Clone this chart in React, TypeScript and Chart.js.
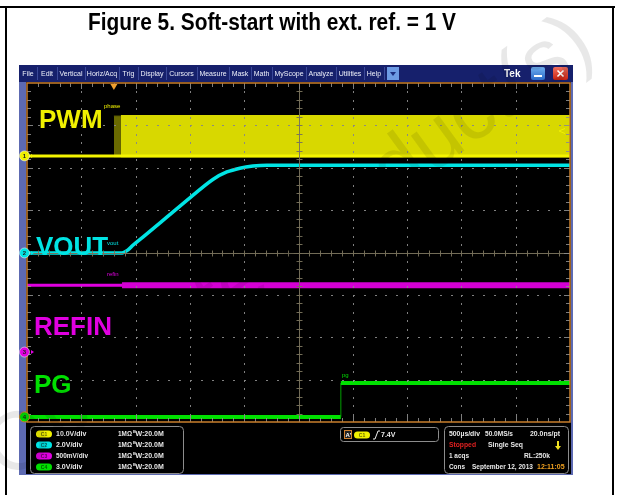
import React, { useEffect, useRef } from "react";
import { Chart, registerables } from "chart.js";

Chart.register(...registerables);

const TITLE = "Figure 5. Soft-start with ext. ref. = 1 V";

// Horizontal unit: screen divisions (500 µs/div, 10 divisions)
// Vertical unit: screen divisions (8 divisions)
const pwmBaseTime = [0, 10];
const pwmBaseLevel = [6.28, 6.28];
const pwmOnsetTime = [1.6, 1.73];
const pwmOnsetTop = [7.22, 7.22];
const pwmBurstTime = [1.73, 10];
const pwmBurstTop = [7.22, 7.22];

const voutTime = [0, 1.75, 1.86, 1.95, 2.14, 2.58, 3.0, 3.43, 3.68, 3.92, 4.16, 4.42, 10];
const voutLevel = [3.99, 3.99, 4.06, 4.17, 4.37, 4.84, 5.29, 5.73, 5.9, 5.99, 6.04, 6.06, 6.06];

const refinQuietTime = [0, 1.75];
const refinQuietLevel = [3.23, 3.23];
const refinNoisyTime = [1.75, 10];
const refinNoisyLevel = [3.23, 3.23];

const pgTime = [0, 5.78, 5.78, 10];
const pgLevel = [0.12, 0.12, 0.92, 0.92];

const channelNames = ["PWM", "VOUT", "REFIN", "PG"];
const channelTags = ["phase", "vout", "refin", "pg"];
const channelColors = ["#f0f000", "#00e4e4", "#e000e0", "#00e000"];
const channelOffsets = [6.28, 3.99, 1.65, 0.12];
const channelScales = ["10.0V/div", "2.0V/div", "500mV/div", "3.0V/div"];
const triggerTime = [1.6];

const menuItems = ["File", "Edit", "Vertical", "Horiz/Acq", "Trig", "Display", "Cursors", "Measure", "Mask", "Math", "MyScope", "Analyze", "Utilities", "Help"];

const pts = (xs: number[], ys: number[]) => xs.map((x, i) => ({ x, y: ys[i] }));

function rr(ctx: CanvasRenderingContext2D, x: number, y: number, w: number, h: number, r: number) {
  ctx.beginPath();
  ctx.moveTo(x + r, y);
  ctx.lineTo(x + w - r, y);
  ctx.arcTo(x + w, y, x + w, y + r, r);
  ctx.lineTo(x + w, y + h - r);
  ctx.arcTo(x + w, y + h, x + w - r, y + h, r);
  ctx.lineTo(x + r, y + h);
  ctx.arcTo(x, y + h, x, y + h - r, r);
  ctx.lineTo(x, y + r);
  ctx.arcTo(x, y, x + r, y, r);
  ctx.closePath();
}

const FONT = "'Liberation Sans', Arial, sans-serif";

const backgroundPlugin = {
  id: "scopeBackground",
  beforeDraw(chart: any) {
    const ctx: CanvasRenderingContext2D = chart.ctx;
    const { left, right, top } = chart.chartArea;
    ctx.save();
    ctx.fillStyle = "#ffffff";
    ctx.fillRect(0, 0, chart.width, chart.height);
    // page frame
    ctx.fillStyle = "#000";
    ctx.fillRect(0, 6, 615, 2);
    ctx.fillRect(5, 6, 2, 489);
    ctx.fillRect(612, 6, 2, 489);
    // title
    ctx.font = "bold 23px " + FONT;
    ctx.textAlign = "left";
    ctx.textBaseline = "alphabetic";
    ctx.fillText(TITLE, 88, 29.5, 368);

    // scope window
    ctx.fillStyle = "#5d6ab2";
    ctx.fillRect(19, 65, 554, 410);
    ctx.fillStyle = "#16206c";
    ctx.fillRect(19, 65, 554, 17);
    ctx.fillStyle = "#000";
    ctx.fillRect(left - 1, top - 1, right - left + 2, 474 - top + 1);

    // menu
    const seps = [37, 57, 85, 119, 138, 166, 197, 229, 251, 272, 306, 336, 364, 384];
    ctx.font = "7px " + FONT;
    ctx.textAlign = "center";
    ctx.textBaseline = "middle";
    let prev = 19;
    menuItems.forEach((m, i) => {
      const s = seps[i];
      ctx.fillStyle = "#eef0fa";
      ctx.fillText(m, (prev + s) / 2, 74);
      ctx.fillStyle = "#3a4898";
      ctx.fillRect(s, 67, 1, 13);
      prev = s;
    });
    // dropdown button
    ctx.fillStyle = "#6d9be4";
    ctx.fillRect(387, 67, 12, 13);
    ctx.fillStyle = "#1d2f80";
    ctx.beginPath();
    ctx.moveTo(390, 72); ctx.lineTo(396, 72); ctx.lineTo(393, 76); ctx.closePath(); ctx.fill();
    // Tek
    ctx.fillStyle = "#ffffff";
    ctx.font = "bold 10px " + FONT;
    ctx.textAlign = "left";
    ctx.fillText("Tek", 504, 74);
    // minimise
    let g = ctx.createLinearGradient(0, 67, 0, 80);
    g.addColorStop(0, "#6fb0f0"); g.addColorStop(1, "#2a68c8");
    ctx.fillStyle = g;
    rr(ctx, 531, 67, 14, 13, 2); ctx.fill();
    ctx.fillStyle = "#fff";
    ctx.fillRect(534, 75, 8, 2);
    // close
    g = ctx.createLinearGradient(0, 67, 0, 80);
    g.addColorStop(0, "#f07060"); g.addColorStop(1, "#c82010");
    ctx.fillStyle = g;
    rr(ctx, 553, 67, 15, 13, 2); ctx.fill();
    ctx.strokeStyle = "#fff"; ctx.lineWidth = 1.6;
    ctx.beginPath();
    ctx.moveTo(557.5, 70.5); ctx.lineTo(563.5, 76.5); ctx.moveTo(563.5, 70.5); ctx.lineTo(557.5, 76.5); ctx.stroke();

    // info panel
    ctx.strokeStyle = "#8c8c8c";
    ctx.lineWidth = 1;
    rr(ctx, 30.5, 426.5, 153, 47, 4); ctx.stroke();
    rr(ctx, 340.5, 427.5, 98, 14, 3); ctx.stroke();
    rr(ctx, 444.5, 426.5, 124, 47, 4); ctx.stroke();

    const rows = [434, 445, 456, 467];
    ctx.textBaseline = "middle";
    const pill = (x: number, y: number, c: string, t: string) => {
      ctx.fillStyle = c;
      rr(ctx, x, y - 3.5, 16, 7, 3.5); ctx.fill();
      ctx.fillStyle = "rgba(0,0,0,0.6)";
      ctx.font = "bold 5px " + FONT;
      ctx.textAlign = "center";
      ctx.fillText(t, x + 8, y + 0.5);
      ctx.textAlign = "left";
    };
    channelScales.forEach((s, i) => {
      const y = rows[i];
      pill(36, y, channelColors[i], "C" + (i + 1));
      ctx.fillStyle = "#e8e8e8";
      ctx.font = "bold 7px " + FONT;
      ctx.fillText(s, 56, y, 32);
      ctx.fillText("1M\u03a9", 118, y, 14);
      ctx.font = "bold 4px " + FONT;
      ctx.fillText("B", 133, y - 2);
      ctx.font = "bold 7px " + FONT;
      ctx.fillText("W:20.0M", 135.5, y + 0.5, 29);
    });
    // trigger box
    ctx.fillStyle = "#222";
    ctx.fillRect(344, 430, 8, 9);
    ctx.strokeStyle = "#d08030";
    ctx.strokeRect(344.5, 430.5, 7, 8);
    ctx.fillStyle = "#fff";
    ctx.font = "bold 6px " + FONT;
    ctx.fillText("A'", 345.5, 435);
    pill(354, 435, channelColors[0], "C1");
    ctx.strokeStyle = "#f0f0f0";
    ctx.lineWidth = 1;
    ctx.beginPath(); ctx.moveTo(373, 439); ctx.lineTo(375, 439); ctx.lineTo(378, 431); ctx.lineTo(380, 431); ctx.stroke();
    ctx.fillStyle = "#e8e8e8";
    ctx.font = "bold 7px " + FONT;
    ctx.fillText("7.4V", 381, 435, 15);
    // right box
    ctx.fillText("500\u00b5s/div", 449, rows[0], 31);
    ctx.fillText("50.0MS/s", 485, rows[0], 28);
    ctx.textAlign = "right";
    ctx.fillText("20.0ns/pt", 560, rows[0], 30);
    ctx.textAlign = "left";
    ctx.fillStyle = "#e02020";
    ctx.fillText("Stopped", 449, rows[1], 27);
    ctx.fillStyle = "#e8e8e8";
    ctx.fillText("Single Seq", 488, rows[1], 35);
    ctx.fillText("1 acqs", 449, rows[2], 20);
    ctx.fillText("RL:250k", 524, rows[2], 26);
    ctx.fillText("Cons", 449, rows[3], 16);
    ctx.fillText("September 12, 2013", 472, rows[3], 61);
    ctx.fillStyle = "#f0a020";
    ctx.fillText("12:11:05", 537, rows[3], 29);
    ctx.fillStyle = "#f0e020";
    ctx.fillRect(557, 441, 2, 6);
    ctx.beginPath(); ctx.moveTo(555, 446); ctx.lineTo(561, 446); ctx.lineTo(558, 450); ctx.closePath(); ctx.fill();
    ctx.restore();
  },
};

const overlayPlugin = {
  id: "scopeOverlay",
  afterDatasetsDraw(chart: any) {
    const ctx: CanvasRenderingContext2D = chart.ctx;
    const { left, right, top, bottom } = chart.chartArea;
    const xs = chart.scales.x, ys = chart.scales.y;
    const dx = (right - left) / 10, dy = (bottom - top) / 8;
    ctx.save();
    // dotted graticule
    ctx.fillStyle = "rgba(135,135,135,0.95)";
    for (let i = 1; i < 10; i++) {
      if (i === 5) continue;
      const x = Math.round(left + i * dx);
      for (let k = 1; k < 40; k++) ctx.fillRect(x, Math.round(top + (k * dy) / 5), 1, 2);
    }
    for (let j = 1; j < 8; j++) {
      if (j === 4) continue;
      const y = Math.round(top + j * dy);
      for (let k = 1; k < 50; k++) ctx.fillRect(Math.round(left + (k * dx) / 5), y, 2, 1);
    }
    // centre cross
    const cx = Math.round(left + 5 * dx) + 0.5, cy = Math.round(top + 4 * dy) + 0.5;
    ctx.strokeStyle = "rgba(120,114,92,0.95)";
    ctx.lineWidth = 1;
    ctx.beginPath();
    ctx.moveTo(left, cy); ctx.lineTo(right, cy);
    ctx.moveTo(cx, top); ctx.lineTo(cx, bottom);
    for (let k = 1; k < 50; k++) {
      const x = Math.round(left + (k * dx) / 5) + 0.5;
      ctx.moveTo(x, cy - 3); ctx.lineTo(x, cy + 3);
    }
    for (let k = 1; k < 40; k++) {
      const y = Math.round(top + (k * dy) / 5) + 0.5;
      ctx.moveTo(cx - 3, y); ctx.lineTo(cx + 3, y);
    }
    ctx.stroke();
    // edge ticks
    ctx.strokeStyle = "rgba(140,140,140,0.9)";
    ctx.beginPath();
    for (let k = 1; k < 50; k++) {
      const x = Math.round(left + (k * dx) / 5) + 0.5;
      const l = k % 5 === 0 ? 6 : 4;
      ctx.moveTo(x, top); ctx.lineTo(x, top + l);
      ctx.moveTo(x, bottom); ctx.lineTo(x, bottom - l);
    }
    for (let k = 1; k < 40; k++) {
      const y = Math.round(top + (k * dy) / 5) + 0.5;
      const l = k % 5 === 0 ? 6 : 4;
      ctx.moveTo(left, y); ctx.lineTo(left + l, y);
      ctx.moveTo(right, y); ctx.lineTo(right - l, y);
    }
    ctx.stroke();
    // orange frame
    ctx.strokeStyle = "#c97f2c";
    ctx.lineWidth = 1.5;
    ctx.strokeRect(left, top, right - left, bottom - top);

    // channel names
    const namePos = [[39, 128], [36, 255], [34, 335], [34, 393]];
    ctx.font = "bold 26px " + FONT;
    ctx.textAlign = "left";
    ctx.textBaseline = "alphabetic";
    channelNames.forEach((n, i) => {
      ctx.fillStyle = channelColors[i];
      ctx.fillText(n, namePos[i][0], namePos[i][1]);
    });
    // small tags
    const tagPos = [[104, 106], [107, 243], [107, 274], [342, 375]];
    ctx.font = "6px " + FONT;
    ctx.textBaseline = "middle";
    channelTags.forEach((t, i) => {
      ctx.fillStyle = channelColors[i];
      ctx.fillText(t, tagPos[i][0], tagPos[i][1]);
    });
    // channel ground markers
    channelOffsets.forEach((v, i) => {
      const y = ys.getPixelForValue(v);
      ctx.fillStyle = channelColors[i];
      ctx.beginPath(); ctx.arc(24.5, y, 5, 0, Math.PI * 2); ctx.fill();
      ctx.strokeStyle = i === 3 ? "#d08020" : "rgba(255,255,255,0.5)";
      ctx.lineWidth = 1;
      ctx.stroke();
      ctx.fillStyle = "#202020";
      ctx.font = "bold 6px " + FONT;
      ctx.textAlign = "center";
      ctx.fillText(String(i + 1), 24.5, y + 0.5);
      ctx.textAlign = "left";
      ctx.fillStyle = channelColors[i];
      ctx.beginPath(); ctx.moveTo(31, y - 2); ctx.lineTo(34, y); ctx.lineTo(31, y + 2); ctx.closePath(); ctx.fill();
    });
    // trigger position marker
    const tx = xs.getPixelForValue(triggerTime[0]);
    ctx.fillStyle = "#f0a030";
    ctx.beginPath(); ctx.moveTo(tx - 3.5, top + 1); ctx.lineTo(tx + 3.5, top + 1); ctx.lineTo(tx, top + 7); ctx.closePath(); ctx.fill();
    // trigger level marker
    ctx.strokeStyle = "#f0f000";
    ctx.lineWidth = 1;
    ctx.beginPath(); ctx.moveTo(565, 128.5); ctx.lineTo(559, 131); ctx.lineTo(565, 133.5); ctx.stroke();
    ctx.restore();
  },
  afterDraw(chart: any) {
    const ctx: CanvasRenderingContext2D = chart.ctx;
    ctx.save();
    ctx.translate(8, 482);
    ctx.rotate((-36 * Math.PI) / 180);
    ctx.font = "82px " + FONT;
    ctx.fillStyle = "rgba(0,0,0,0.09)";
    ctx.textAlign = "left";
    ctx.textBaseline = "alphabetic";
    ctx.fillText("Obsolete Product(s)", 0, 0);
    ctx.restore();
  },
};

export default function App() {
  const ref = useRef<HTMLCanvasElement>(null);
  useEffect(() => {
    const canvas = ref.current;
    if (!canvas) return;
    const chart = new Chart(canvas, {
      type: "line",
      data: {
        datasets: [
          {
            label: "PWM",
            data: pts(pwmBaseTime, pwmBaseLevel),
            borderColor: "#f4f400",
            borderWidth: 3,
            pointRadius: 0,
            fill: false,
            order: 2,
          },
          {
            label: "PWM onset",
            data: pts(pwmOnsetTime, pwmOnsetTop),
            borderColor: "#5e5e00",
            borderWidth: 1,
            backgroundColor: "#6a6a00",
            pointRadius: 0,
            fill: { value: 6.25 },
            order: 5,
          },
          {
            label: "PWM burst",
            data: pts(pwmBurstTime, pwmBurstTop),
            borderColor: "#d8d800",
            borderWidth: 2,
            backgroundColor: "#d8d800",
            pointRadius: 0,
            fill: { value: 6.25 },
            order: 6,
          },
          {
            label: "VOUT",
            data: pts(voutTime, voutLevel),
            borderColor: "#00e4e4",
            borderWidth: 3.5,
            pointRadius: 0,
            cubicInterpolationMode: "monotone",
            fill: false,
            order: 1,
          },
          {
            label: "REFIN",
            data: pts(refinQuietTime, refinQuietLevel),
            borderColor: "#e000e0",
            borderWidth: 3,
            pointRadius: 0,
            fill: false,
            order: 3,
          },
          {
            label: "REFIN noise",
            data: pts(refinNoisyTime, refinNoisyLevel),
            borderColor: "#d400d4",
            borderWidth: 6,
            pointRadius: 0,
            fill: false,
            order: 3,
          },
          {
            label: "PG",
            data: pts(pgTime, pgLevel),
            borderColor: "#00e000",
            borderWidth: 4,
            pointRadius: 0,
            fill: false,
            order: 0,
            segment: {
              borderWidth: (c: any) => (c.p0.parsed.x === c.p1.parsed.x ? 1 : 4),
              borderColor: (c: any) => (c.p0.parsed.x === c.p1.parsed.x ? "#00a000" : "#00e000"),
            },
          },
        ],
      },
      options: {
        responsive: false,
        devicePixelRatio: 1,
        animation: false,
        layout: { padding: { left: 27, top: 83, right: 54, bottom: 73 } },
        scales: {
          x: { type: "linear", min: 0, max: 10, display: false },
          y: { type: "linear", min: 0, max: 8, display: false },
        },
        plugins: { legend: { display: false }, tooltip: { enabled: false } },
        events: [],
      },
      plugins: [backgroundPlugin, overlayPlugin],
    } as any);
    return () => chart.destroy();
  }, []);
  return (
    <div style={{ position: "absolute", left: 0, top: 0, width: 624, height: 495 }}>
      <canvas ref={ref} width={624} height={495} style={{ display: "block" }} />
    </div>
  );
}
